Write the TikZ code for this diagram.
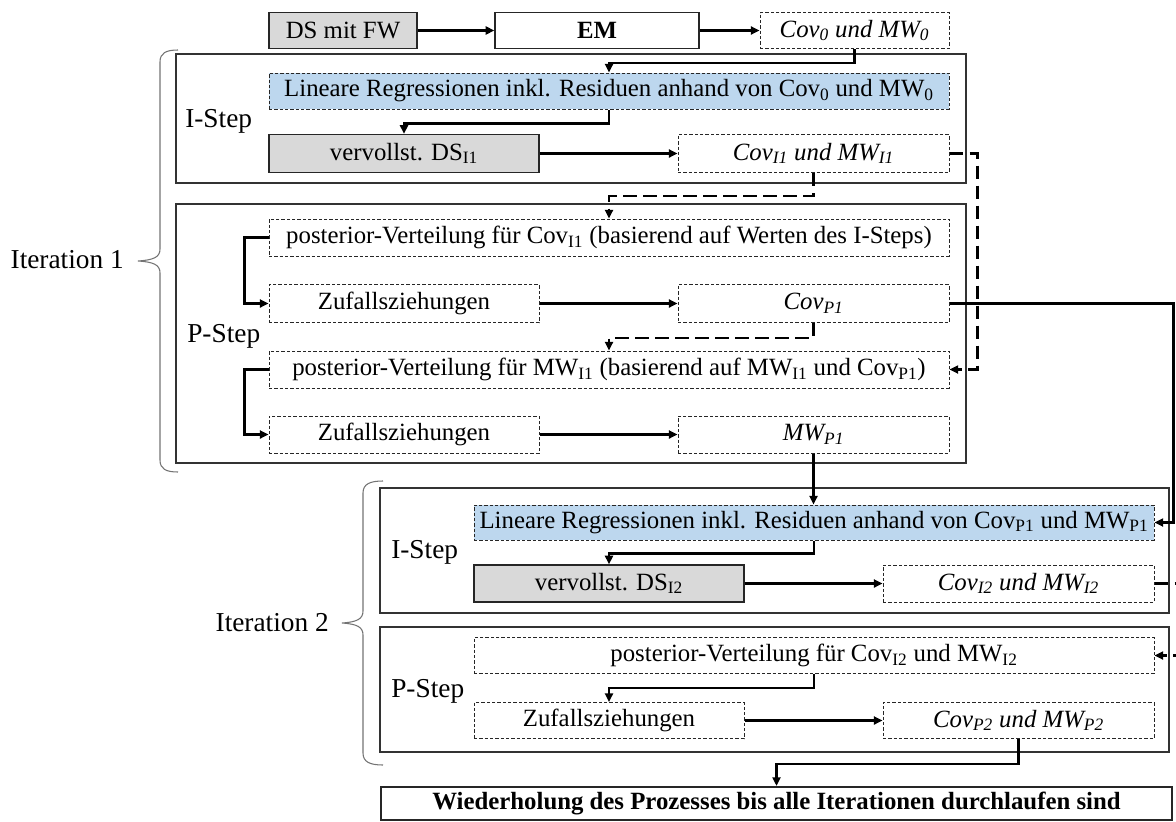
\documentclass[tikz,border=0pt]{standalone}
\usepackage{fontspec}
\setmainfont{Liberation Serif}
\usetikzlibrary{arrows.meta}
\definecolor{boxgray}{HTML}{D9D9D9}
\definecolor{boxblue}{HTML}{BDD7EE}
\begin{document}
\begin{tikzpicture}[x=0.75pt,y=-0.75pt,
  every node/.style={font=\fontsize{18.6}{21}\selectfont},
  sz/.style 2 args={minimum width=#1*0.75pt, minimum height=#2*0.75pt},
  frame/.style={draw=black!80, line width=1.1pt, inner sep=0},
  solidbox/.style={draw=black!85, line width=1pt, inner sep=0, align=center},
  graybox/.style={solidbox, fill=boxgray},
  dbox/.style={draw=black!85, line width=0.75pt, dash pattern=on 2.5pt off 1.5pt, inner sep=0},
  bluebox/.style={dbox, fill=boxblue},
  arr/.style={line width=2pt, -{Triangle[length=6.5pt,width=6pt]}},
  darr/.style={arr, dash pattern=on 10pt off 5pt},
  brace/.style={draw=black!55, line width=0.8pt},
  steplabel/.style={anchor=west, inner sep=0, font=\fontsize{20.5}{23}\selectfont},
  iterlabel/.style={anchor=east, inner sep=0, font=\fontsize{20.5}{23}\selectfont}
]
\useasboundingbox (0,0) rectangle (1176,821);
\clip (0,0) rectangle (1176,821);

% ---- top row
\node[graybox, sz={148}{36}] (ds)   at (343,30.5)   {DS mit FW};
\node[solidbox, sz={204}{36}] (em)  at (597,30.5)   {\textbf{EM}};
\node[dbox, sz={189}{36}] (cov0)    at (854.5,30.5) {\itshape Cov\textsubscript{0} und MW\textsubscript{0}};

% ---- iteration 1: I-step
\node[frame, sz={790}{129}] (istep1) at (571,118.5) {};
\node[steplabel] (il1) at (185,121) {I-Step};
\node[bluebox, sz={680}{36}] (blue1) at (609,91) {Lineare Regressionen inkl. Residuen anhand von Cov\textsubscript{0} und MW\textsubscript{0}};
\node[graybox, sz={270}{38}] (dsI1) at (404,153.5) {vervollst. DS\textsubscript{I1}};
\node[dbox, sz={271}{38}] (covI1) at (813.5,153.5) {\itshape Cov\textsubscript{I1} und MW\textsubscript{I1}};

% ---- iteration 1: P-step
\node[frame, sz={790}{259}] (pstep1) at (571,333.5) {};
\node[steplabel] (pl1) at (187,336) {P-Step};
\node[dbox, sz={680}{37}] (postCov) at (609,237.5) {posterior-Verteilung für Cov\textsubscript{I1} (basierend auf Werten des I-Steps)};
\node[dbox, sz={270}{38}] (zufA) at (404,303.5) {Zufallsziehungen};
\node[dbox, sz={271}{38}] (covP1) at (813.5,303.5) {\itshape Cov\textsubscript{P1}};
\node[dbox, sz={680}{37}] (postMW) at (609,369.5) {posterior-Verteilung für MW\textsubscript{I1} (basierend auf MW\textsubscript{I1} und Cov\textsubscript{P1})};
\node[dbox, sz={270}{37}] (zufB) at (404,434.5) {Zufallsziehungen};
\node[dbox, sz={271}{37}] (mwP1) at (813.5,434.5) {\itshape MW\textsubscript{P1}};

% ---- iteration 2: I-step
\node[frame, sz={789}{125}] (istep2) at (774.5,550.5) {};
\node[steplabel] (il2) at (391,552) {I-Step};
\node[bluebox, sz={680}{35}] (blue2) at (814,522.5) {Lineare Regressionen inkl. Residuen anhand von Cov\textsubscript{P1} und MW\textsubscript{P1}};
\node[graybox, sz={270}{37}] (dsI2) at (609,583.5) {vervollst. DS\textsubscript{I2}};
\node[dbox, sz={271}{37}] (covI2) at (1018.5,583.5) {\itshape Cov\textsubscript{I2} und MW\textsubscript{I2}};

% ---- iteration 2: P-step
\node[frame, sz={789}{125}] (pstep2) at (774.5,689.5) {};
\node[steplabel] (pl2) at (391,691) {P-Step};
\node[dbox, sz={680}{36}] (post2) at (814,655.5) {posterior-Verteilung für Cov\textsubscript{I2} und MW\textsubscript{I2}};
\node[dbox, sz={270}{36}] (zufC) at (609,720.5) {Zufallsziehungen};
\node[dbox, sz={271}{36}] (covP2) at (1018.5,720.5) {\itshape Cov\textsubscript{P2} und MW\textsubscript{P2}};

% ---- closing box
\node[solidbox, line width=1.6pt, sz={791}{33}] (wied) at (776.5,803.5) {\textbf{Wiederholung des Prozesses bis alle Iterationen durchlaufen sind}};

% ---- iteration braces and labels
\draw[brace] (178,50) .. controls (166,50) and (160,53) .. (160,62) -- (160,249)
  .. controls (160,257) and (154,260) .. (138,261)
  .. controls (154,262) and (160,265) .. (160,273) -- (160,460)
  .. controls (160,469) and (166,472) .. (178,472);
\node[iterlabel] (it1) at (124,260) {Iteration 1};
\draw[brace] (383,481) .. controls (370,481) and (363,484) .. (363,493) -- (363,611)
  .. controls (363,619) and (357,622) .. (342,623)
  .. controls (357,624) and (363,627) .. (363,635) -- (363,753)
  .. controls (363,762) and (370,765) .. (383,765);
\node[iterlabel] (it2) at (329,623) {Iteration 2};

% ---- connectors, top row and iteration 1
\draw[arr] (ds) -- (em);
\draw[arr] (em) -- (cov0);
\draw[arr] (cov0.south) -- ++(0,14) -| (blue1.north);
\draw[arr] (blue1.south) -- ++(0,14) -| (dsI1.north);
\draw[arr] (dsI1) -- (covI1);
\draw[darr] (covI1.south) -- ++(0,23) -| (postCov.north);
\draw[darr] (covI1.east) -- ++(28,0) |- (postMW.east);
\draw[arr] (postCov.west) -- ++(-24,0) |- (zufA.west);
\draw[arr] (zufA) -- (covP1);
\draw[darr] (covP1.south) -- ++(0,15) -| (postMW.north);
\draw[arr] (postMW.west) -- ++(-24,0) |- (zufB.west);
\draw[arr] (zufB) -- (mwP1);

% ---- hand-over to iteration 2
\draw[arr] (covP1.east) -- ++(224,0) |- (blue2.east);
\draw[arr] (mwP1.south) -- (mwP1.south |- blue2.north);

% ---- connectors, iteration 2
\draw[arr] (blue2.south) -- ++(0,13) -| (dsI2.north);
\draw[arr] (dsI2) -- (covI2);
\draw[darr] (covI2.east) -- ++(30,0) |- (post2.east);
\draw[arr] (post2.south) -- ++(0,14) -| (zufC.north);
\draw[arr] (zufC) -- (covP2);
\draw[arr] (covP2.south) -- ++(0,25) -| (wied.north);
\end{tikzpicture}
\end{document}
